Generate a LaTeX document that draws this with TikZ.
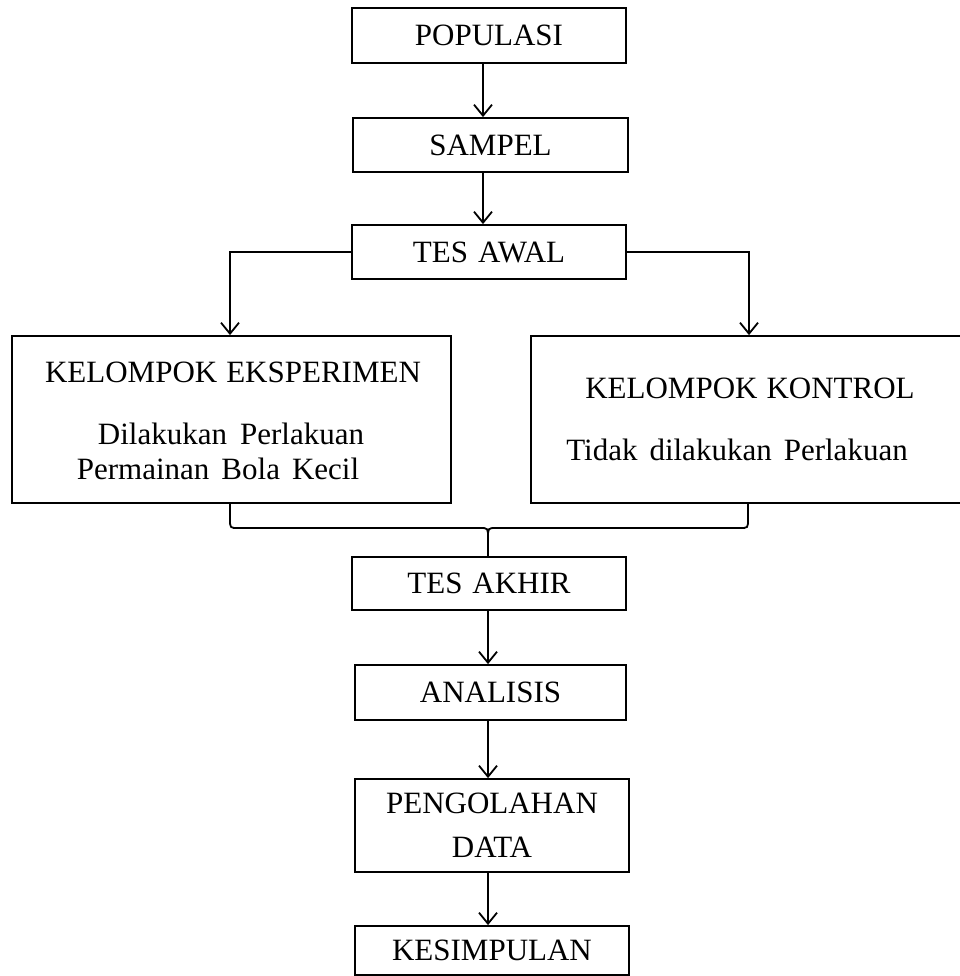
\documentclass[tikz,border=0pt]{standalone}
\usepackage{fontspec}
\setmainfont{Liberation Serif}
\usetikzlibrary{arrows.meta}
\begin{document}
\begin{tikzpicture}[x=1pt,y=-1pt,
  box/.style={draw,line width=1.8pt,inner sep=0pt,font=\fontsize{31}{37}\selectfont,align=center},
  lbl/.style={inner sep=0pt,font=\fontsize{31}{37}\selectfont},
  conn/.style={line width=1.8pt},
  arr/.style={line width=1.8pt,-{Straight Barb[length=11pt,width=18pt,line width=1.8pt]}}]
\useasboundingbox (0,0) rectangle (959,976);
\node[box,minimum width=274pt,minimum height=55pt] (pop) at (489,35.5) {POPULASI};
\node[box,minimum width=275pt,minimum height=54pt] (samp) at (490.5,145) {SAMPEL};
\node[box,minimum width=274pt,minimum height=54pt] (awal) at (489,252) {TES\hspace{10pt}AWAL};
\node[box,minimum width=439pt,minimum height=167pt] (eks) at (231.5,419.5) {};
\node[box,minimum width=431pt,minimum height=167pt] (kon) at (746.5,419.5) {};
\node[box,minimum width=274pt,minimum height=53pt] (akhir) at (489,583.5) {TES\hspace{10pt}AKHIR};
\node[box,minimum width=271pt,minimum height=55pt] (anal) at (490.5,692.5) {ANALISIS};
\node[box,minimum width=274pt,minimum height=93pt] (peng) at (492,825.5) {PENGOLAHAN\\[7pt]DATA};
\node[box,minimum width=274pt,minimum height=49pt] (kes) at (492,950.5) {KESIMPULAN};
\node[lbl] (e1) at (233,372) {KELOMPOK\hspace{9pt}EKSPERIMEN};
\node[lbl] (e2) at (231,434) {Dilakukan\hspace{13pt}Perlakuan};
\node[lbl] (e3) at (218,469) {Permainan\hspace{12pt}Bola\hspace{12pt}Kecil};
\node[lbl] (k1) at (750,388) {KELOMPOK\hspace{9pt}KONTROL};
\node[lbl] (k2) at (737,450) {Tidak\hspace{12pt}dilakukan\hspace{12pt}Perlakuan};
\coordinate (ax) at (483,0);
\coordinate (bx) at (488,0);
\coordinate (lx) at (230,0);
\coordinate (rx) at (749,0);
\coordinate (lb) at (230,0);
\coordinate (rb) at (748,0);
\draw[arr] (pop.south -| ax) -- (samp.north -| ax);
\draw[arr] (samp.south -| ax) -- (awal.north -| ax);
\draw[arr] (awal.west) -| (eks.north -| lx);
\draw[arr] (awal.east) -| (kon.north -| rx);
\draw[conn] (eks.south -| lb) -- (230,519) .. controls (230,528) .. (238,528) -- (480,528) .. controls (488,528) .. (488,538) -- (akhir.north -| bx);
\draw[conn] (kon.south -| rb) -- (748,519) .. controls (748,528) .. (740,528) -- (496,528) .. controls (488,528) .. (488,538);
\draw[arr] (akhir.south -| bx) -- (anal.north -| bx);
\draw[arr] (anal.south -| bx) -- (peng.north -| bx);
\draw[arr] (peng.south -| bx) -- (kes.north -| bx);
\end{tikzpicture}
\end{document}
